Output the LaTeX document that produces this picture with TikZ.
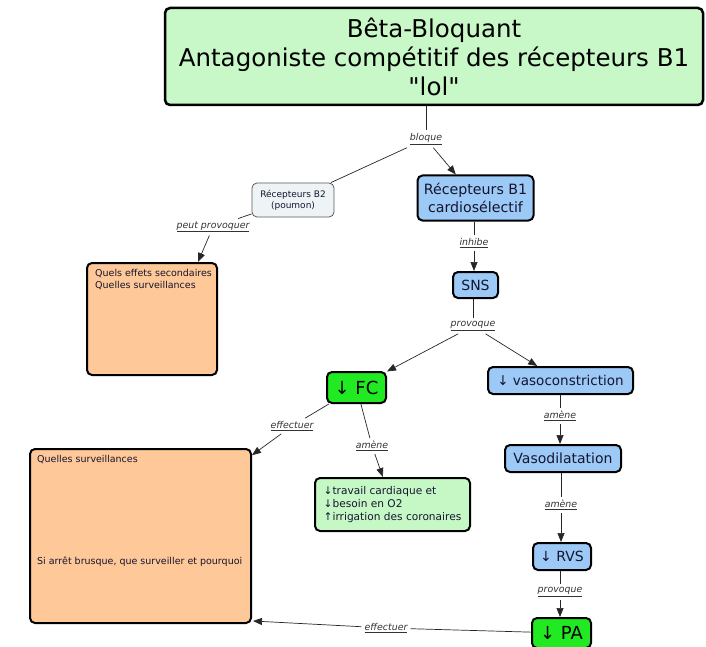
\documentclass[tikz,border=0pt]{standalone}
\usepackage{fontspec}
\setmainfont{DejaVu Sans}[Ligatures=TeXOff]
\usetikzlibrary{arrows.meta,calc}
\definecolor{bluefill}{HTML}{9CC9F6}
\definecolor{topfill}{HTML}{C8F8C8}
\definecolor{greenfill}{HTML}{22EA22}
\definecolor{infofill}{HTML}{C6F8C6}
\definecolor{orangefill}{HTML}{FFC898}
\definecolor{b2fill}{HTML}{EEF4F6}
\definecolor{nodetext}{HTML}{151530}
\definecolor{lbltext}{HTML}{333333}
\begin{document}
\begin{tikzpicture}[x=1pt,y=-1pt,
  box/.style={draw=black, line width=2pt, rounded corners=5pt, align=center, inner sep=0pt, text=nodetext},
  bluebox/.style={box, fill=bluefill, font=\fontsize{13.5}{17}\selectfont},
  greenbox/.style={box, fill=greenfill, font=\fontsize{18}{20}\selectfont, text=black},
  orangebox/.style={box, fill=orangefill},
  smalltext/.style={anchor=north west, align=left, inner sep=0pt, text=nodetext},
  lbl/.style={font=\fontsize{9.4}{11}\selectfont\itshape, text=lbltext, inner sep=3pt},
  conn/.style={line width=0.7pt, draw=black!85},
  arr/.style={conn, -{Triangle[length=9pt,width=7pt]}},
]
\useasboundingbox (0,0) rectangle (706,647);
\clip (0,0) rectangle (706,647);

% nodes
\node[box, line width=2.5pt, fill=topfill, text=black, minimum width=538pt, minimum height=97pt,
      font=\fontsize{24.5}{29}\selectfont] (top) at (434,56.5)
      {Bêta-Bloquant\\Antagoniste compétitif des récepteurs B1\\"lol"};
\node[box, draw=black!65, line width=0.8pt, fill=b2fill, minimum width=82pt, minimum height=34pt,
      font=\fontsize{9}{11}\selectfont] (b2) at (293,200) {Récepteurs B2\\(poumon)};
\node[bluebox, minimum width=116pt, minimum height=45pt, font=\fontsize{14.2}{18}\selectfont] (b1) at (475.5,198) {Récepteurs B1\\cardiosélectif};
\node[orangebox, minimum width=130pt, minimum height=112pt] (o1) at (152,319) {};
\node[smalltext, font=\fontsize{9.5}{11.7}\selectfont] (o1t) at (95,269) {Quels effets secondaires\\Quelles surveillances};
\node[bluebox, minimum width=45pt, minimum height=26pt, font=\fontsize{14}{16}\selectfont] (sns) at (475.5,285) {SNS};
\node[greenbox, minimum width=59pt, minimum height=31pt] (fc) at (356.5,387.5) {↓ FC};
\node[bluebox, minimum width=145pt, minimum height=27pt] (vaso) at (560.5,380.5) {↓ vasoconstriction};
\node[box, fill=infofill, minimum width=155pt, minimum height=53pt, align=left,
      font=\fontsize{10.6}{13.3}\selectfont] (info) at (392.5,504.5)
      {↓travail cardiaque et\\↓besoin en O2\\↑irrigation des coronaires};
\node[orangebox, minimum width=221pt, minimum height=174pt] (o2) at (140.5,536) {};
\node[smalltext, font=\fontsize{9.5}{11}\selectfont] (o2a) at (37,455.5) {Quelles surveillances};
\node[smalltext, font=\fontsize{9.5}{11}\selectfont] (o2b) at (37,556.5) {Si arrêt brusque, que surveiller et pourquoi};
\node[bluebox, minimum width=116pt, minimum height=27pt, font=\fontsize{14}{16}\selectfont] (vasod) at (563,458.5) {Vasodilatation};
\node[bluebox, minimum width=58pt, minimum height=27pt, font=\fontsize{14}{16}\selectfont] (rvs) at (562,556.5) {↓ RVS};
\node[greenbox, minimum width=59pt, minimum height=30pt] (pa) at (561.5,633) {↓ PA};

% labels
\node[lbl] (bloque) at (426,139) {\underline{bloque}};
\node[lbl] (pp) at (213,227) {\underline{peut provoquer}};
\node[lbl] (inhibe) at (474,243) {\underline{inhibe}};
\node[lbl] (prov1) at (473,326) {\underline{provoque}};
\node[lbl] (eff1) at (292,426) {\underline{effectuer}};
\node[lbl] (amene1) at (372,446) {\underline{amène}};
\node[lbl] (amene2) at (560,416) {\underline{amène}};
\node[lbl] (amene3) at (561,505) {\underline{amène}};
\node[lbl] (prov2) at (560,592) {\underline{provoque}};
\node[lbl] (eff2) at (386,628) {\underline{effectuer}};

% connectors
\draw[conn] (top.south -| bloque) -- (bloque);
\draw[conn] (bloque) -- (b2);
\draw[arr] (bloque) -- (b1);
\draw[conn] (b2) -- (pp);
\draw[arr] (pp) -- ([xshift=-20pt]o1.north east);
\draw[conn] (b1.south -| inhibe) -- (inhibe);
\draw[arr] (inhibe) -- (inhibe |- sns.north);
\draw[conn] (sns.south -| prov1) -- (prov1);
\draw[arr] (prov1) -- (fc);
\draw[arr] (prov1) -- (vaso);
\draw[conn] (fc) -- (eff1);
\draw[arr] (eff1) -- (o2);
\draw[conn] (fc) -- (amene1);
\draw[arr] (amene1) -- (info);
\draw[conn] (vaso.south -| amene2) -- (amene2);
\draw[arr] (amene2) -- (amene2 |- vasod.north);
\draw[conn] (vasod.south -| amene3) -- (amene3);
\draw[arr] (amene3) -- (amene3 |- rvs.north);
\draw[conn] (rvs.south -| prov2) -- (prov2);
\draw[arr] (prov2) -- (prov2 |- pa.north);
\draw[conn] (pa) -- (eff2);
\draw[arr] (eff2) -- ([shift={(1,-3)}]o2.south east);
\end{tikzpicture}
\end{document}
